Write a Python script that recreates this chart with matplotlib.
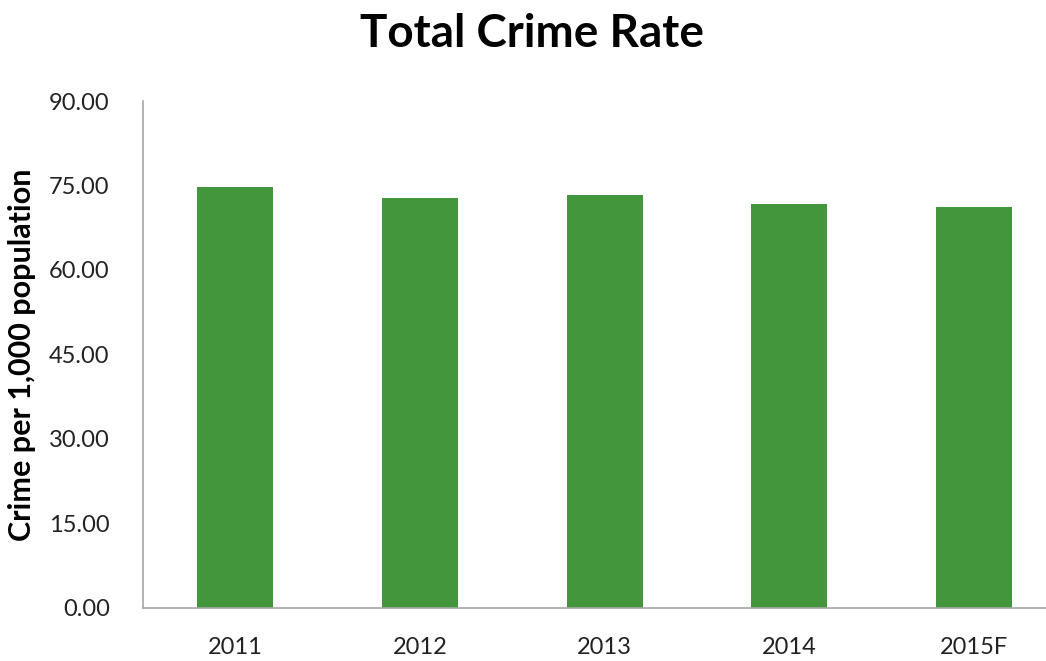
import matplotlib
matplotlib.use("Agg")
import matplotlib.pyplot as plt

years = ["2011", "2012", "2013", "2014", "2015F"]
crime_rate = [74.7, 72.8, 73.4, 71.7, 71.2]
y_ticks = [0, 15, 30, 45, 60, 75, 90]

bar_color = "#43963b"
axis_color = "#a6a6a6"

plt.rcParams["font.family"] = ["Lato", "DejaVu Sans"]

fig = plt.figure(figsize=(10.46, 6.61), dpi=100)
ax = fig.add_axes([0.1367, 0.0802, 0.8633, 0.767])

x = list(range(len(years)))
ax.bar(x, crime_rate, width=0.41, color=bar_color)

ax.set_xlim(-0.5, 4.39)
ax.set_ylim(0, 90)
ax.set_xticks(x)
ax.set_xticklabels(years, fontsize=17, color="#222222")
ax.set_yticks(y_ticks)
ax.set_yticklabels([f"{v:.2f}" for v in y_ticks], fontsize=17, color="#222222")
ax.tick_params(axis="both", length=0)
ax.tick_params(axis="x", pad=21)
ax.tick_params(axis="y", pad=24)

# only left and bottom lines like the excel chart
for side in ["top", "right"]:
    ax.spines[side].set_visible(False)
for side in ["left", "bottom"]:
    ax.spines[side].set_color(axis_color)
    ax.spines[side].set_linewidth(1.2)

ax.set_ylabel("Crime per 1,000 population", fontsize=22, fontweight="bold", labelpad=9)
fig.text(0.509, 0.948, "Total Crime Rate", ha="center", va="center",
         fontsize=33, fontweight="bold")

plt.savefig("out.png", dpi=100)
